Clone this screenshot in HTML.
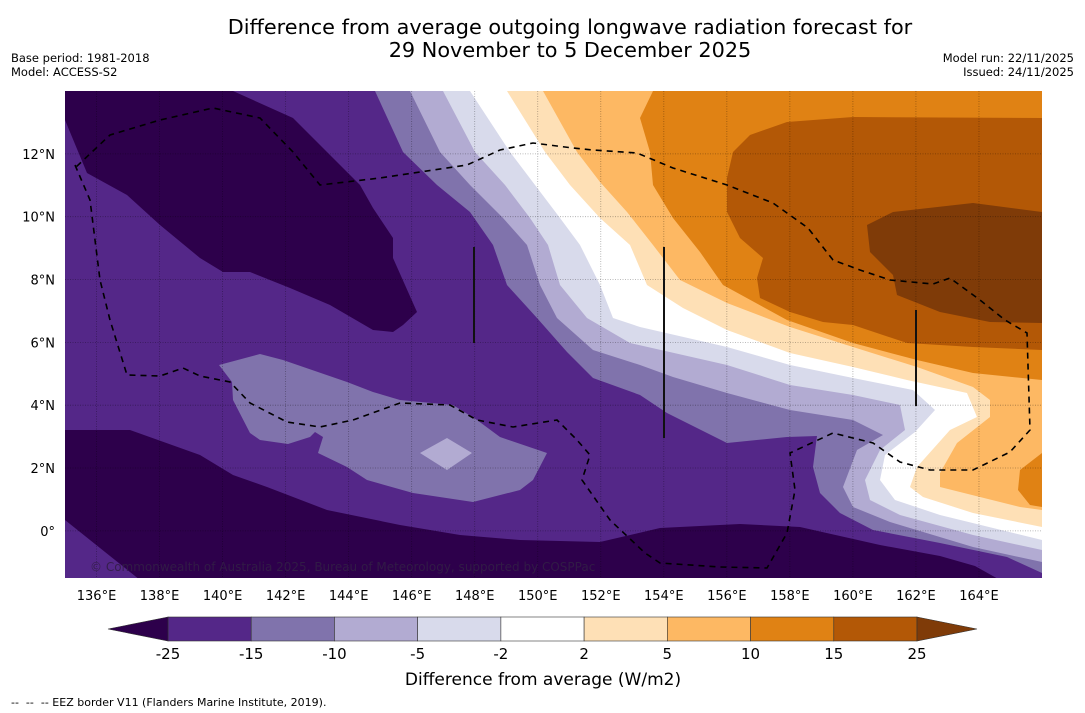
<!DOCTYPE html>
<html><head><meta charset="utf-8">
<style>
body{margin:0;background:#fff;width:1085px;height:713px;overflow:hidden;font-family:"Liberation Sans","DejaVu Sans",sans-serif;}
svg{display:block}
</style></head>
<body>
<svg id="chart" width="1085" height="713" viewBox="0 0 1085 713" xmlns="http://www.w3.org/2000/svg" font-family="DejaVu Sans, Liberation Sans, sans-serif">
<text x="570" y="34" text-anchor="middle" font-size="20.8">Difference from average outgoing longwave radiation forecast for</text>
<text x="570" y="57" text-anchor="middle" font-size="20.8">29 November to 5 December 2025</text>
<text x="11" y="62" font-size="11.5">Base period: 1981-2018</text>
<text x="11" y="76" font-size="11.5">Model: ACCESS-S2</text>
<text x="1074" y="62" text-anchor="end" font-size="11.5">Model run: 22/11/2025</text>
<text x="1074" y="76" text-anchor="end" font-size="11.5">Issued: 24/11/2025</text>
<defs><clipPath id="mapclip"><rect x="65" y="91" width="977" height="487"/></clipPath></defs>
<g id="map" clip-path="url(#mapclip)"></g>
<g id="axes"></g>
<g id="cbar"></g>
<text x="543" y="685" text-anchor="middle" font-size="17">Difference from average (W/m2)</text>
<text x="11" y="706" font-size="11">--&#160;&#160;--&#160;&#160;-- EEZ border V11 (Flanders Marine Institute, 2019).</text>
</svg>
<script>
const NS='http://www.w3.org/2000/svg';
const lonTicks=[136,138,140,142,144,146,148,150,152,154,156,158,160,162,164];
const latTicks=[0,2,4,6,8,10,12];
const lonMin=135, lonMax=166, latMin=-1.5, latMax=14;
const cbarLevels=[-25,-15,-10,-5,-2,2,5,10,15,25];
const cbarColors=['#542788','#8073ac','#b2abd2','#d8daeb','#ffffff','#fee0b6','#fdb863','#e08214','#b35806'];
const underColor='#2d004b', overColor='#7f3b08';
function xs(lon){return 65+(lon-lonMin)/(lonMax-lonMin)*977;}
function ys(lat){return 91+(latMax-lat)/(latMax-latMin)*487;}
const dkTop=[[72,91],[233,91],[293,118],[327,152],[360,185],[373,208],[393,238],[393,258],[417,312],[403,325],[393,332],[373,330],[330,305],[290,288],[250,272],[223,272],[200,258],[160,225],[127,195],[87,173],[65,120],[65,91]];
const dkBot=[[65,430],[130,430],[200,455],[233,475],[267,487],[327,510],[400,525],[460,535],[520,540],[600,542],[660,528],[740,524],[800,527],[880,545],[940,556],[975,566],[1000,580],[140,580],[100,548],[65,520]];
const lvM15=[[375,91],[403,152],[437,185],[470,212],[493,245],[507,285],[537,318],[567,352],[593,378],[640,395],[667,413],[727,443],[787,437],[817,436],[813,467],[820,493],[840,513],[873,530],[940,543],[1007,557],[1042,573]];
const lvM10=[[410,91],[440,152],[470,185],[503,218],[527,245],[540,285],[557,318],[593,350],[640,365],[673,377],[727,393],[790,410],[853,420],[883,435],[857,450],[843,487],[853,507],[890,522],[973,547],[1042,562]];
const lvM5=[[443,91],[475,152],[505,185],[530,218],[548,245],[560,285],[587,318],[630,343],[727,365],[790,385],[853,395],[900,405],[905,430],[880,450],[865,480],[870,500],[900,515],[973,535],[1042,550]];
const lvM2=[[470,91],[510,152],[535,185],[560,218],[580,245],[600,285],[613,318],[640,327],[727,347],[790,365],[853,378],[913,390],[935,410],[915,432],[885,455],[880,480],[895,500],[940,515],[1042,540]];
const lvP2=[[507,91],[545,152],[570,185],[600,218],[630,245],[647,285],[683,308],[727,330],[790,353],[853,367],[907,380],[967,393],[977,417],[950,430],[917,467],[910,487],[923,497],[973,513],[1042,527]];
const lvP5=[[543,91],[577,152],[600,182],[627,212],[653,245],[680,280],[727,303],[790,327],[853,347],[917,367],[973,387],[990,400],[990,417],[957,443],[940,473],[940,487],[980,497],[1020,507],[1042,510]];
const lvP10=[[653,91],[640,118],[650,152],[653,185],[673,218],[700,252],[723,285],[787,320],[853,343],[917,360],[973,373],[1042,380]];
const blobP10=[[1042,453],[1020,470],[1018,490],[1030,505],[1042,507]];
const lvP15=[[1042,118],[853,117],[787,122],[750,135],[733,152],[727,178],[727,212],[740,238],[763,258],[757,278],[760,298],[790,312],[823,322],[853,325],[907,343],[973,347],[1042,350]];
const lvP25=[[1042,212],[973,203],[893,212],[867,225],[870,252],[893,275],[897,295],[940,312],[990,322],[1042,323]];
const blobM15=[[219,365],[260,354],[283,360],[347,382],[373,392],[400,400],[453,405],[477,420],[500,437],[547,453],[533,480],[520,490],[473,502],[413,493],[367,480],[347,467],[318,453],[323,437],[315,432],[310,437],[288,444],[260,440],[250,433],[233,400],[232,382]];
const diamondM10=[[420,453],[447,438],[472,453],[447,470]];
const eez=[[75,165],[90,200],[100,280],[110,320],[127,375],[160,376],[183,368],[200,376],[230,382],[250,403],[287,422],[320,427],[353,420],[400,403],[450,405],[477,420],[513,427],[557,420],[577,440],[590,455],[582,480],[610,520],[645,553],[660,563],[720,567],[767,568],[787,533],[795,490],[790,453],[833,433],[873,443],[900,462],[930,470],[973,470],[1010,452],[1030,430],[1027,333],[1005,320],[980,300],[950,278],[933,284],[890,280],[860,270],[833,260],[808,228],[773,203],[727,185],[673,168],[637,153],[593,150],[573,148],[533,143],[500,150],[467,165],[420,172],[380,178],[320,185],[293,152],[260,118],[213,108],[160,120],[110,135],[75,168]];
const vlines=[[474,247,343],[664,247,438],[916,310,406]];

const map=document.getElementById('map');
function pts(a){return a.map(p=>p[0]+','+p[1]).join(' ');}
function poly(a,fill,name){const e=document.createElementNS(NS,'polygon');e.setAttribute('points',pts(a));e.setAttribute('fill',fill);


map.appendChild(e);return e;}
function upper(b){return b.concat([[1042,91]]);}
const bg=document.createElementNS(NS,'rect');bg.setAttribute('x',65);bg.setAttribute('y',91);bg.setAttribute('width',977);bg.setAttribute('height',487);bg.setAttribute('fill',cbarColors[0]);


map.appendChild(bg);
poly(dkTop,underColor,'band-below-minus25-north');
poly(dkBot,underColor,'band-below-minus25-south');
poly(upper(lvM15),cbarColors[1],'band-minus15-minus10');
poly(blobM15,cbarColors[1],'band-minus15-minus10-blob');
poly(diamondM10,cbarColors[2],'band-minus10-minus5-blob');
poly(upper(lvM10),cbarColors[2],'band-minus10-minus5');
poly(upper(lvM5),cbarColors[3],'band-minus5-minus2');
poly(upper(lvM2),cbarColors[4],'band-minus2-plus2');
poly(upper(lvP2),cbarColors[5],'band-plus2-plus5');
poly(upper(lvP5),cbarColors[6],'band-plus5-plus10');
poly(upper(lvP10),cbarColors[7],'band-plus10-plus15');
poly(blobP10,cbarColors[7],'band-plus10-plus15-blob');
poly(lvP15,cbarColors[8],'band-plus15-plus25');
poly(lvP25,overColor,'band-above-plus25');
lonTicks.forEach(l=>{const e=document.createElementNS(NS,'line');e.setAttribute('x1',xs(l));e.setAttribute('x2',xs(l));e.setAttribute('y1',91);e.setAttribute('y2',578);e.setAttribute('stroke','rgba(0,0,0,0.35)');e.setAttribute('stroke-width','0.8');e.setAttribute('stroke-dasharray','1,1.5');


map.appendChild(e);});
latTicks.forEach(l=>{const e=document.createElementNS(NS,'line');e.setAttribute('y1',ys(l));e.setAttribute('y2',ys(l));e.setAttribute('x1',65);e.setAttribute('x2',1042);e.setAttribute('stroke','rgba(0,0,0,0.35)');e.setAttribute('stroke-width','0.8');e.setAttribute('stroke-dasharray','1,1.5');


map.appendChild(e);});
const pl=document.createElementNS(NS,'polyline');pl.setAttribute('points',pts(eez));pl.setAttribute('fill','none');pl.setAttribute('stroke','#000');pl.setAttribute('stroke-width','1.6');pl.setAttribute('stroke-dasharray','6,5');


map.appendChild(pl);
vlines.forEach(v=>{const e=document.createElementNS(NS,'line');e.setAttribute('x1',v[0]);e.setAttribute('x2',v[0]);e.setAttribute('y1',v[1]);e.setAttribute('y2',v[2]);e.setAttribute('stroke','#111');e.setAttribute('stroke-width','2');


map.appendChild(e);});
const cp=document.createElementNS(NS,'text');cp.setAttribute('x',90);cp.setAttribute('y',571);cp.setAttribute('font-size','12');cp.setAttribute('fill','rgba(50,30,70,0.9)');cp.textContent='© Commonwealth of Australia 2025, Bureau of Meteorology, supported by COSPPac';


map.appendChild(cp);
const axes=document.getElementById('axes');
lonTicks.forEach(l=>{const t=document.createElementNS(NS,'text');t.setAttribute('x',xs(l));t.setAttribute('y',600);t.setAttribute('text-anchor','middle');t.setAttribute('font-size','13');t.textContent=l+'°E';


axes.appendChild(t);});
latTicks.forEach(l=>{const t=document.createElementNS(NS,'text');t.setAttribute('x',55);t.setAttribute('y',ys(l)+5);t.setAttribute('text-anchor','end');t.setAttribute('font-size','13');t.textContent=l===0?'0°':l+'°N';


axes.appendChild(t);});
const cb=document.getElementById('cbar');
const cbX0=168,cbX1=917,cbY=617,cbH=24;
function cx(i){return cbX0+i*(cbX1-cbX0)/(cbarLevels.length-1);}
for(let i=0;i<cbarColors.length;i++){const r=document.createElementNS(NS,'rect');r.setAttribute('x',cx(i));r.setAttribute('y',cbY);r.setAttribute('width',cx(i+1)-cx(i));r.setAttribute('height',cbH);r.setAttribute('fill',cbarColors[i]);r.setAttribute('stroke','#333');r.setAttribute('stroke-width','0.6');


cb.appendChild(r);}
const tl=document.createElementNS(NS,'polygon');tl.setAttribute('points',`${cbX0},${cbY} 108,${cbY+cbH/2} ${cbX0},${cbY+cbH}`);tl.setAttribute('fill',underColor);tl.setAttribute('stroke','#333');tl.setAttribute('stroke-width','0.6');


cb.appendChild(tl);
const tr=document.createElementNS(NS,'polygon');tr.setAttribute('points',`${cbX1},${cbY} 977,${cbY+cbH/2} ${cbX1},${cbY+cbH}`);tr.setAttribute('fill',overColor);tr.setAttribute('stroke','#333');tr.setAttribute('stroke-width','0.6');


cb.appendChild(tr);
cbarLevels.forEach((v,i)=>{const t=document.createElementNS(NS,'text');t.setAttribute('x',cx(i));t.setAttribute('y',659);t.setAttribute('text-anchor','middle');t.setAttribute('font-size','15');t.textContent=v;


cb.appendChild(t);});
</script>
</body></html>
